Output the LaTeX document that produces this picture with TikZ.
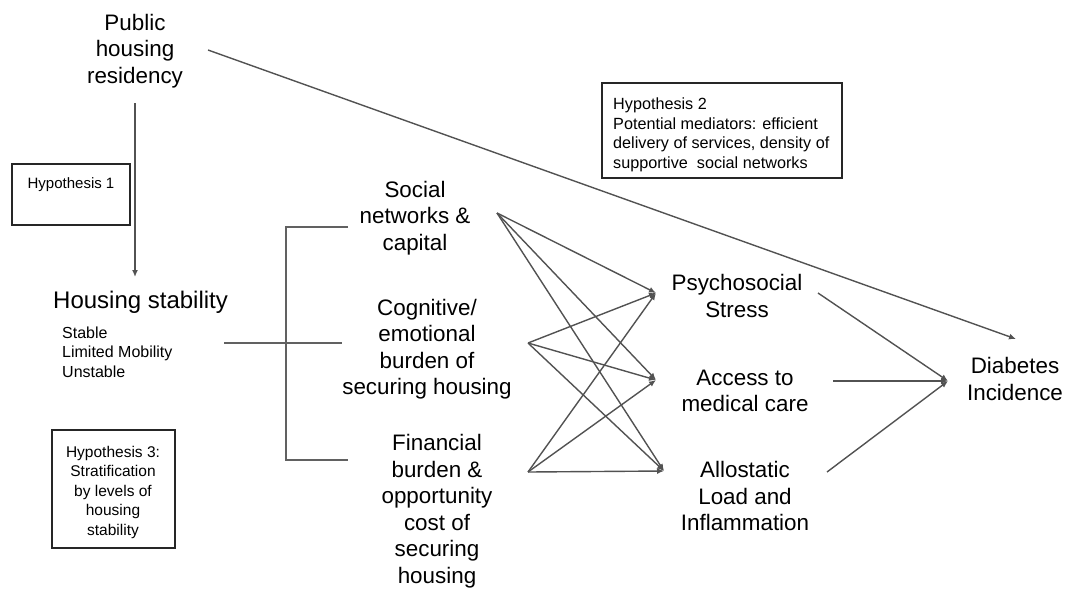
\documentclass[tikz,border=0pt]{standalone}
\usepackage{fontspec}
\setmainfont{Liberation Sans}
\usetikzlibrary{arrows.meta}
\begin{document}
\begin{tikzpicture}[x=1pt,y=-1pt,
  big/.style={align=center,inner sep=0pt,font=\fontsize{22.4}{26.5}\selectfont},
  small/.style={inner sep=0pt,font=\fontsize{15.5}{19.5}\selectfont},
  hbox/.style={draw=black!85,line width=1.3pt},
  conn/.style={draw=black!68,line width=1.4pt},
  arr/.style={conn,-{Latex[length=7pt,width=6pt]}},
  brk/.style={draw=black!62,line width=1.2pt}]
\useasboundingbox (0,0) rectangle (1067,590);
% text nodes
\node[big] (pub) at (135,51) {Public\\housing\\residency};
\node[big,anchor=west,font=\fontsize{24}{28}\selectfont] (hs) at (53,302) {Housing stability};
\node[small,anchor=west,align=left,font=\fontsize{16}{19.5}\selectfont] (hsl) at (62,352) {Stable\\Limited Mobility\\Unstable};
\node[big] (soc) at (415,218) {Social\\networks \&\\capital};
\node[big] (cog) at (427,349) {Cognitive/\\emotional\\burden of\\securing housing};
\node[big] (fin) at (437,511) {Financial\\burden \&\\opportunity\\cost of\\securing\\housing};
\node[big] (psy) at (737,296) {Psychosocial\\Stress};
\node[big] (acc) at (745,391) {Access to\\medical care};
\node[big] (allo) at (745,496) {Allostatic\\Load and\\Inflammation};
\node[big] (dia) at (1015,379) {Diabetes\\Incidence};
% hypothesis boxes
\draw[hbox] (12,164) rectangle (130,225);
\node[small,font=\fontsize{15}{19}\selectfont] (h1) at (71,185) {Hypothesis 1};
\draw[hbox] (602,83) rectangle (842,178);
\node[small,anchor=west,align=left,font=\fontsize{16.2}{19.6}\selectfont] (h2) at (613,135) {Hypothesis 2\\Potential mediators: efficient\\delivery of services, density of\\supportive\ \ social networks};
\draw[hbox] (52,430) rectangle (175,548);
\node[small,align=center] (h3) at (113,492) {Hypothesis 3:\\Stratification\\by levels of\\housing\\stability};
% anchor coordinates
\coordinate (pubB) at (135,103);
\coordinate (hsT) at (135,277);
\coordinate (pubR) at (208,50);
\coordinate (diaT) at (1016,339);
\coordinate (hsR) at (224,343);
\coordinate (brT) at (286,227);
\coordinate (brB) at (286,460);
\coordinate (socL) at (348,227);
\coordinate (cogL) at (342,343);
\coordinate (finL) at (348,460);
\coordinate (socR) at (497,213);
\coordinate (cogR) at (528,343);
\coordinate (finR) at (528,472);
\coordinate (psyL) at (656,293);
\coordinate (accL) at (656,380);
\coordinate (alloL) at (664,471);
\coordinate (psyR) at (818,293);
\coordinate (accR) at (833,381);
\coordinate (alloR) at (827,472);
\coordinate (diaL) at (948,381);
% connectors
\draw[arr] (pubB) -- (hsT);
\draw[arr] (pubR) -- (diaT);
\draw[brk] (hsR) -- (cogL);
\draw[brk] (socL) -- (brT) -- (brB) -- (finL);
\foreach \s in {socR,cogR,finR}
  \foreach \t in {psyL,accL,alloL}
    \draw[arr] (\s) -- (\t);
\draw[arr] (psyR) -- (diaL);
\draw[arr] (accR) -- (diaL);
\draw[arr] (alloR) -- (diaL);
\end{tikzpicture}
\end{document}
